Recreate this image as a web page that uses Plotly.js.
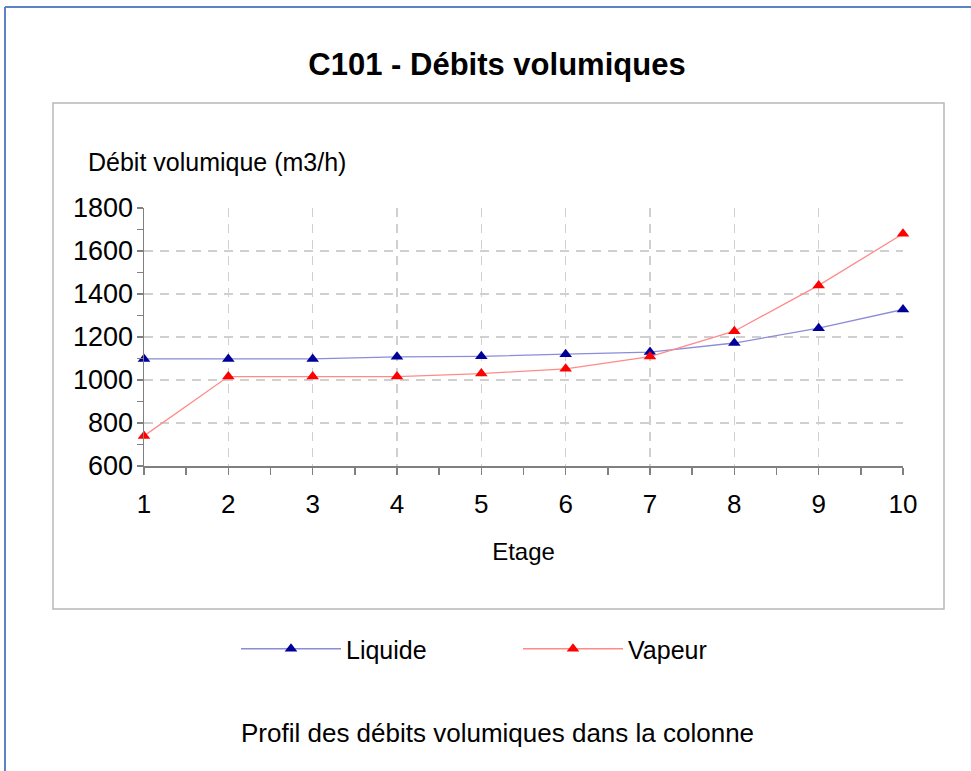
<!DOCTYPE html>
<html>
<head>
<meta charset="utf-8">
<script src="https://cdn.plot.ly/plotly-3.0.1.min.js"></script>
<style>html,body{margin:0;padding:0;background:#fff;}#chart{width:971px;height:771px;}</style>
</head>
<body>
<div id="chart"></div>
<script>
// ---- data ----
const etages = [1, 2, 3, 4, 5, 6, 7, 8, 9, 10];
const liquide = [1098, 1098, 1098, 1108, 1110, 1120, 1130, 1172, 1241, 1328];
const vapeur = [740, 1016, 1016, 1016, 1030, 1052, 1109, 1227, 1440, 1680];
const seriesNames = ['Liquide', 'Vapeur'];
const yTicks = [600, 800, 1000, 1200, 1400, 1600, 1800];
const xTicks = [1, 2, 3, 4, 5, 6, 7, 8, 9, 10];

// ---- geometry helpers (pixel -> paper) ----
const W = 971, H = 771;
const ML = 144, MR = 68, MT = 208, MB = 305;
const PW = W - ML - MR, PH = H - MT - MB;
const px = x => (x - ML) / PW;
const py = y => (H - MB - y) / PH;

const FONT = 'Liberation Sans, Arial, sans-serif';
const axisGray = '#808080';

const traces = [
  {
    x: etages, y: liquide, name: seriesNames[0], type: 'scatter', mode: 'lines+markers',
    line: {color: '#8c8cd8', width: 1.3},
    marker: {symbol: 'triangle-up', size: 11, color: '#000099'},
    cliponaxis: false
  },
  {
    x: etages, y: vapeur, name: seriesNames[1], type: 'scatter', mode: 'lines+markers',
    line: {color: '#ff8a8a', width: 1.3},
    marker: {symbol: 'triangle-up', size: 11, color: '#ff0000'},
    cliponaxis: false
  }
];

const layout = {
  width: W, height: H,
  margin: {l: ML, r: MR, t: MT, b: MB},
  paper_bgcolor: '#ffffff', plot_bgcolor: '#ffffff',
  font: {family: FONT, color: '#000000'},
  title: {
    text: '<b>C101 - Débits volumiques</b>',
    font: {family: FONT, size: 31, color: '#000000'},
    xref: 'container', yref: 'container',
    x: 497 / W, y: 1 - 64 / H, xanchor: 'center', yanchor: 'middle'
  },
  xaxis: {
    range: [1, 10], tickmode: 'array', tickvals: xTicks, ticktext: xTicks.map(String),
    showline: true, linecolor: axisGray, linewidth: 1.5,
    ticks: 'outside', ticklen: 7, tickwidth: 1.5, tickcolor: axisGray,
    ticklabelstandoff: 7,
    tickfont: {family: FONT, size: 26, color: '#000'},
    showgrid: true, gridcolor: '#d0d0d0', gridwidth: 1.6, griddash: '9px,7px',
    zeroline: false,
    minor: {dtick: 0.5, tick0: 1, ticks: 'outside', ticklen: 7, tickwidth: 1.5, tickcolor: axisGray, showgrid: false},
    title: {text: 'Etage', font: {family: FONT, size: 24, color: '#000'}, standoff: 25}
  },
  yaxis: {
    range: [600, 1800], tickmode: 'array', tickvals: yTicks, ticktext: yTicks.map(String),
    showline: true, linecolor: axisGray, linewidth: 1.5,
    ticks: 'outside', ticklen: 6, tickwidth: 1.5, tickcolor: axisGray,
    ticklabelstandoff: -2,
    tickfont: {family: FONT, size: 27, color: '#000'},
    showgrid: true, gridcolor: '#d0d0d0', gridwidth: 1.6, griddash: '9px,7px',
    zeroline: false,
    minor: {dtick: 100, tick0: 600, ticks: 'outside', ticklen: 6, tickwidth: 1.5, tickcolor: axisGray, showgrid: false}
  },
  xaxis2: {
    overlaying: 'x', matches: 'x', anchor: 'y', side: 'bottom',
    range: [1, 10], tickmode: 'array', tickvals: xTicks,
    showticklabels: false, showline: false, showgrid: false, zeroline: false,
    ticks: 'inside', ticklen: 5, tickwidth: 1.5, tickcolor: axisGray,
    minor: {dtick: 0.5, tick0: 1, ticks: 'inside', ticklen: 5, tickwidth: 1.5, tickcolor: axisGray, showgrid: false}
  },
  yaxis2: {
    overlaying: 'y', matches: 'y', anchor: 'x', side: 'left',
    range: [600, 1800], tickmode: 'array', tickvals: yTicks,
    showticklabels: false, showline: false, showgrid: false, zeroline: false,
    ticks: 'inside', ticklen: 8, tickwidth: 1.5, tickcolor: axisGray,
    minor: {dtick: 100, tick0: 600, ticks: 'inside', ticklen: 8, tickwidth: 1.5, tickcolor: axisGray, showgrid: false}
  },
  showlegend: true,
  legend: {
    orientation: 'h', xref: 'paper', yref: 'paper',
    x: px(236), y: py(649), xanchor: 'left', yanchor: 'middle',
    itemwidth: 100, entrywidth: 167, entrywidthmode: 'pixels',
    font: {family: FONT, size: 25, color: '#000'},
    bgcolor: 'rgba(0,0,0,0)', traceorder: 'normal'
  },
  annotations: [
    {
      text: 'Débit volumique (m3/h)', xref: 'paper', yref: 'paper',
      x: px(86), y: py(162), xanchor: 'left', yanchor: 'middle', showarrow: false,
      font: {family: FONT, size: 25, color: '#000'}
    },
    {
      text: 'Profil des débits volumiques dans la colonne', xref: 'paper', yref: 'paper',
      x: px(497), y: py(733), xanchor: 'center', yanchor: 'middle', showarrow: false,
      font: {family: FONT, size: 26, color: '#000'}
    }
  ],
  shapes: [
    // inner frame
    {type: 'rect', xref: 'paper', yref: 'paper', x0: px(53), x1: px(944), y0: py(609), y1: py(103),
     line: {color: '#b8b8b8', width: 1.5}, fillcolor: 'rgba(0,0,0,0)', layer: 'below'},
    // outer blue border
    {type: 'line', xref: 'paper', yref: 'paper', x0: px(5), x1: px(5), y0: py(7), y1: py(771),
     line: {color: '#5b84c4', width: 2}},
    {type: 'line', xref: 'paper', yref: 'paper', x0: px(5), x1: px(971), y0: py(7), y1: py(7),
     line: {color: '#5b84c4', width: 2}}
  ]
};

Plotly.newPlot('chart', traces, layout, {displayModeBar: false, staticPlot: true});
</script>
</body>
</html>
